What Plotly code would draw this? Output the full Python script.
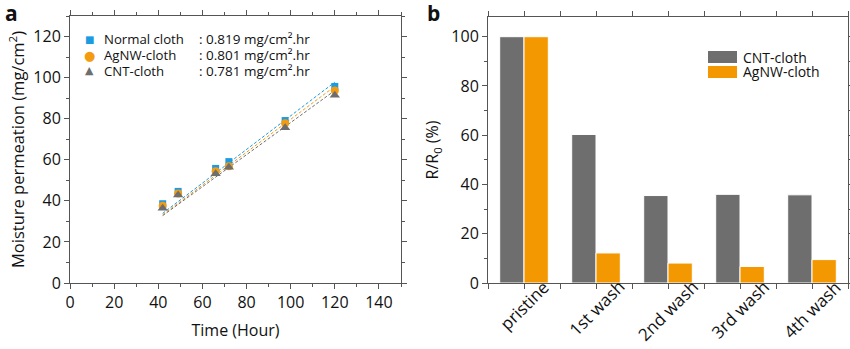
import plotly.graph_objects as go

# ---------------- data ----------------
time_h = [42, 49, 66, 72, 97.5, 120]
normal_cloth = [38.6, 44.6, 55.8, 59.1, 79.1, 95.7]
agnw_cloth = [37.6, 43.6, 54.4, 56.8, 77.8, 93.7]
cnt_cloth = [36.4, 42.8, 53.2, 56.3, 75.6, 91.4]

fit_names = ["Normal cloth", "AgNW-cloth", "CNT-cloth"]
fit_slopes = [0.819, 0.801, 0.781]
fit_intercepts = [-0.5, -0.4, 0.0]
fit_range = [42, 120]
rate_labels = [": 0.819 mg/cm\u00b2.hr", ": 0.801 mg/cm\u00b2.hr", ": 0.781 mg/cm\u00b2.hr"]

wash_categories = ["pristine", "1st wash", "2nd wash", "3rd wash", "4th wash"]
cnt_ratio = [100, 60.3, 35.5, 36.0, 35.8]
agnw_ratio = [100, 12.2, 8.1, 6.7, 9.5]

# ---------------- style ----------------
BLUE = "#1c9be0"
ORANGE = "#f39c12"
GRAY = "#6e6e6e"
BAR_ORANGE = "#f39800"
AX = "#555555"
FONT = "Open Sans"

W, H = 850, 349
ML, MR, MT, MB = 70, 2, 16, 66
PW = W - ML - MR
PH = H - MT - MB


def px(x):
    return (x - ML) / PW


def py(y):
    return (H - MB - y) / PH


fig = go.Figure()

series = [normal_cloth, agnw_cloth, cnt_cloth]
colors = [BLUE, ORANGE, GRAY]
symbols = ["square", "circle", "triangle-up"]
sizes = [7, 8, 9]

for name, vals, c, m, b in zip(fit_names, series, colors, fit_slopes, fit_intercepts):
    fig.add_trace(go.Scatter(
        x=fit_range, y=[m * xv + b for xv in fit_range], mode="lines",
        line=dict(color=c, width=1, dash="3px,2px"), showlegend=False,
        xaxis="x", yaxis="y", hoverinfo="skip"))
for name, vals, c, s, sz in zip(fit_names, series, colors, symbols, sizes):
    fig.add_trace(go.Scatter(
        x=time_h, y=vals, mode="markers", name=name,
        marker=dict(color=c, symbol=s, size=sz, line=dict(width=0)),
        showlegend=False, xaxis="x", yaxis="y"))

xpos = list(range(len(wash_categories)))
fig.add_trace(go.Bar(x=xpos, y=cnt_ratio, name="CNT-cloth",
                     marker=dict(color=GRAY, line=dict(color="white", width=1)),
                     xaxis="x2", yaxis="y2", showlegend=False))
fig.add_trace(go.Bar(x=xpos, y=agnw_ratio, name="AgNW-cloth",
                     marker=dict(color=BAR_ORANGE, line=dict(color="white", width=1)),
                     xaxis="x2", yaxis="y2", showlegend=False))

axis_common = dict(showline=True, linecolor=AX, linewidth=1, mirror="allticks",
                   ticks="outside", ticklen=5, tickcolor=AX, showgrid=False,
                   zeroline=False, automargin=False, tickfont=dict(size=16, color="#111"))

fig.update_layout(
    width=W, height=H, margin=dict(l=ML, r=MR, t=MT, b=MB, autoexpand=False),
    paper_bgcolor="white", plot_bgcolor="white",
    font=dict(family=FONT, color="#111"),
    barmode="group", bargap=0.325, bargroupgap=0,
    xaxis=dict(domain=[0, px(401)], range=[0, 150], dtick=20, tick0=0,
               minor=dict(dtick=10, ticklen=3, ticks="outside", tickcolor=AX),
               title=dict(text="Time (Hour)", standoff=12, font=dict(size=16, color="#111")),
               anchor="y", **axis_common),
    yaxis=dict(domain=[0, 1], range=[0, 130], dtick=20, tick0=0,
               minor=dict(dtick=10, ticklen=3, ticks="outside", tickcolor=AX),
               title=dict(text="Moisture permeation (mg/cm<sup>2</sup>)", standoff=4,
                          font=dict(size=16.5, color="#111")),
               anchor="x", **axis_common),
    xaxis2=dict(domain=[px(488), 1], range=[-0.5, 4.5], tickvals=xpos,
                showticklabels=False,
                minor=dict(tick0=0.5, dtick=1, ticklen=5, ticks="outside", tickcolor=AX),
                anchor="y2", **axis_common),
    yaxis2=dict(domain=[0, 1 - 1 / PH], range=[0, 108], dtick=20, tick0=0,
                minor=dict(dtick=10, ticklen=3, ticks="outside", tickcolor=AX),
                title=dict(text="R/R<sub>0</sub> (%)", standoff=8,
                           font=dict(size=16, color="#111")),
                anchor="x2", **axis_common),
)

ann = []
P = dict(xref="paper", yref="paper", showarrow=False)
# panel labels
ann.append(dict(x=px(3), y=py(-3), text="<b>a</b>", xanchor="left", yanchor="top",
                font=dict(size=21, color="#111"), **P))
ann.append(dict(x=px(425), y=py(-3), text="<b>b</b>", xanchor="left", yanchor="top",
                font=dict(size=21, color="#111"), **P))

# rotated category labels (centred under each category)
for i, cat in zip(xpos, wash_categories):
    ann.append(dict(x=i, xref="x2", y=py(273), yref="paper", text=cat, showarrow=False,
                    textangle=-45, xanchor="center", yanchor="top",
                    font=dict(size=17, color="#111")))

# left legend
glyphs = ["\u25a0", "\u25cf", "\u25b2"]
gsizes = [10, 13, 11]
rows = [39, 55, 71]
for g, gs, c, name, rate, r in zip(glyphs, gsizes, colors, fit_names, rate_labels, rows):
    ann.append(dict(x=px(89), y=py(r), text=g, xanchor="center", yanchor="middle",
                    font=dict(size=gs, color=c, family="DejaVu Sans"), **P))
    ann.append(dict(x=px(102), y=py(r), text=name, xanchor="left", yanchor="middle",
                    font=dict(size=13.2, color="#111"), **P))
    ann.append(dict(x=px(197), y=py(r), text=rate, xanchor="left", yanchor="middle",
                    font=dict(size=13.5, color="#111"), **P))

# right legend
shapes = []
for c, name, r in zip([GRAY, BAR_ORANGE], ["CNT-cloth", "AgNW-cloth"], [57, 72]):
    shapes.append(dict(type="rect", xref="paper", yref="paper",
                       x0=px(708), x1=px(737), y0=py(r + 6), y1=py(r - 6),
                       fillcolor=c, line=dict(width=0)))
    ann.append(dict(x=px(741), y=py(r), text=name, xanchor="left", yanchor="middle",
                    font=dict(size=14, color="#111"), **P))

fig.update_layout(annotations=ann, shapes=shapes)
fig.write_html("out.html")
